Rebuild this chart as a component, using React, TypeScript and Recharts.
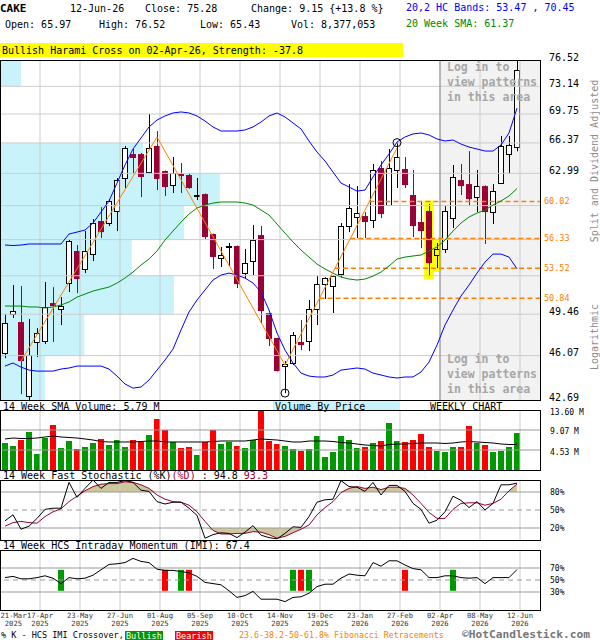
import {
  Area,
  Bar,
  Cell,
  ComposedChart,
  Line,
  ReferenceArea,
  ReferenceDot,
  ReferenceLine,
  XAxis,
  YAxis
} from "recharts";

const MONO = '"DejaVu Sans Mono", monospace';
const MAROON = "#990033";
const ORANGE = "#ff8000";
const GRID = "#cccccc";
const LEVEL = "#999999";
const LIGHT_BLUE = "#c8f3fb";
const GREEN = "#009900";
const RED = "#ff0000";

// weekly bars, index 0 = 21-Mar-2025 ... 64 = 12-Jun-2026
const opens = [
  46.27, 49.48, 48.8, 42.98, 47.16, 47.24, 50.42, 49.91, 52.18, 55.13, 53.45, 54.84, 58.04, 57.84, 59.05, 62.49,
  65.11, 65.11, 63.13, 66.02, 63.24, 61.74, 62.92, 62.81, 60.69, 60.79, 56.76, 54.47, 55.51, 55.61, 53.08, 54.19,
  56.66, 49.56, 47.48, 45.25, 45.49, 47.16, 47.24, 49.91, 52.09, 51.91, 52.99, 57.54, 58.44, 58.54, 58.14, 63.57,
  59.66, 63.35, 63.46, 60.69, 57.94, 59.05, 54.75, 55.32, 58.34, 62.27, 61.84, 60.48, 61.63, 58.94, 61.95, 65.11,
  65.97
];
const highs = [
  49.48, 52.0, 51.91, 49.05, 48.3, 52.27, 51.82, 50.94, 56.28, 55.7, 57.05, 58.24, 59.45, 60.27, 62.49, 66.02,
  65.68, 65.23, 69.75, 67.74, 63.3, 64.78, 64.12, 63.02, 62.49, 60.85, 56.8, 55.51, 55.89, 55.65, 55.32, 57.64,
  57.54, 49.6, 47.5, 45.64, 47.97, 48.97, 50.68, 52.81, 52.7, 52.9, 57.84, 61.84, 61.63, 58.94, 64.01, 64.34,
  65.68, 66.4, 64.78, 63.35, 59.97, 59.76, 55.89, 59.55, 63.9, 64.01, 65.45, 63.35, 61.7, 61.84, 67.17, 67.17,
  76.52
];
const lows = [
  45.87, 49.14, 43.12, 42.69, 45.95, 46.99, 47.16, 48.55, 51.38, 51.29, 53.08, 54.19, 56.37, 57.54, 57.05, 61.42,
  63.02, 60.48, 63.0, 61.21, 60.59, 60.9, 60.9, 61.35, 60.17, 56.28, 53.45, 53.64, 53.73, 51.73, 52.63, 52.9,
  48.72, 46.83, 44.84, 43.2, 45.33, 46.51, 46.43, 48.55, 50.77, 49.56, 52.72, 56.95, 56.37, 56.37, 57.35, 58.34,
  59.6, 61.42, 61.42, 56.47, 55.41, 52.81, 53.54, 54.94, 57.35, 60.69, 59.55, 58.94, 55.8, 57.74, 61.9, 63.02,
  65.43
];
const closes = [
  48.72, 49.73, 45.64, 46.11, 47.89, 50.08, 50.16, 50.16, 56.08, 52.54, 55.13, 57.84, 56.95, 60.07, 62.27, 65.79,
  64.67, 62.6, 65.79, 62.38, 61.53, 63.02, 62.7, 61.42, 60.72, 56.47, 54.56, 54.75, 55.61, 52.09, 54.0, 56.18,
  49.73, 47.4, 44.86, 45.41, 47.72, 46.91, 49.91, 52.09, 52.63, 52.81, 57.54, 59.35, 58.84, 57.94, 63.35, 58.74,
  63.57, 64.78, 61.74, 57.54, 57.05, 54.0, 55.32, 59.05, 62.6, 61.63, 60.27, 61.63, 58.94, 61.1, 66.02, 66.13,
  75.28
];
// millions of shares
const volumes = [
  6.12, 5.44, 6.8, 8.61, 3.63, 7.25, 10.2, 4.99, 6.57, 4.76, 5.21, 6.12, 7.03, 5.67, 6.8, 5.21,
  6.8, 6.35, 7.93, 11.56, 9.07, 6.35, 4.99, 5.21, 3.4, 6.35, 9.07, 5.89, 6.35, 5.44, 4.99, 6.8,
  13.37, 6.57, 5.89, 5.44, 4.76, 4.31, 4.76, 7.71, 2.95, 4.08, 7.71, 6.8, 4.99, 5.21, 6.12, 6.57,
  10.65, 6.57, 6.35, 6.8, 8.16, 5.21, 4.31, 4.08, 5.21, 5.21, 9.97, 6.12, 5.67, 4.08, 4.31, 5.21,
  8.38
];
const volSma14 = [
  7.03, 7.25, 7.14, 7.14, 7.25, 7.48, 7.71, 7.48, 7.37, 7.25, 7.03, 6.8, 6.46, 6.35, 6.35, 6.35,
  6.35, 6.46, 6.57, 6.57, 6.35, 6.35, 6.35, 6.35, 6.35, 6.35, 6.46, 6.57, 6.57, 6.57, 6.57, 6.8,
  7.03, 6.91, 6.8, 6.57, 6.35, 6.35, 6.57, 6.57, 6.57, 6.46, 6.23, 6.12, 5.89, 5.67, 5.55, 5.44,
  5.78, 5.89, 5.89, 6.01, 6.12, 6.12, 6.12, 6.01, 6.12, 6.35, 6.46, 6.35, 6.23, 6.12, 5.89, 5.78,
  5.79
];
const upperBand = [
  55.7, 55.65, 55.7, 55.8, 55.8, 55.8, 55.8, 55.8, 56.76, 56.95, 57.15, 57.84, 58.94, 60.07, 61.95, 63.9,
  65.68, 66.93, 68.21, 69.03, 69.51, 69.87, 69.99, 69.87, 69.51, 68.91, 68.21, 67.74, 67.74, 67.74, 67.86, 68.21,
  68.79, 69.51, 69.87, 69.39, 68.68, 67.98, 66.59, 65.34, 64.34, 63.13, 61.95, 61.53, 61.1, 61.21, 62.6, 63.9,
  65.11, 66.47, 67.05, 67.4, 67.51, 67.28, 66.82, 66.59, 66.7, 66.24, 65.9, 65.68, 65.45, 65.45, 66.13, 67.51,
  70.45
];
const lowerBand = [
  45.25, 45.49, 45.17, 44.94, 44.86, 44.86, 44.86, 45.02, 45.1, 45.25, 45.25, 45.25, 45.25, 45.02, 44.48, 43.88,
  43.57, 43.65, 44.18, 44.94, 45.72, 46.59, 48.14, 49.65, 50.68, 51.56, 52.45, 52.9, 53.08, 52.9, 52.63, 52.18,
  51.38, 49.82, 47.89, 46.51, 45.49, 44.71, 44.48, 44.41, 44.41, 44.56, 44.94, 45.02, 45.1, 45.02, 44.71, 44.56,
  44.41, 44.33, 44.41, 44.41, 44.79, 45.56, 46.91, 48.55, 49.82, 51.03, 52.0, 53.08, 54.09, 54.84, 54.84, 54.56,
  53.47
];
const sma20 = [
  50.16, 50.16, 50.16, 50.08, 50.08, 49.99, 50.08, 50.25, 50.51, 50.94, 51.2, 51.47, 51.65, 51.82, 52.18, 52.63,
  53.17, 53.82, 54.37, 55.13, 56.18, 57.05, 57.94, 58.74, 59.35, 59.66, 59.86, 59.97, 59.97, 59.97, 59.86, 59.66,
  59.15, 58.64, 57.74, 56.85, 55.99, 55.22, 54.56, 53.91, 53.45, 53.08, 52.72, 52.54, 52.45, 52.54, 52.81, 53.17,
  53.73, 54.37, 54.56, 54.66, 54.75, 55.13, 55.51, 56.18, 57.05, 57.84, 58.44, 58.84, 59.15, 59.66, 60.07, 60.59,
  61.37
];
const stochK = [
  32, 42, 18, 23, 36, 51, 53, 53, 96, 71, 86, 100, 86, 96, 96, 99,
  96, 83, 81, 64, 60, 63, 63, 53, 41, 3, 9, 12, 11, 4, 13, 24,
  8, 4, 2, 11, 22, 21, 39, 63, 67, 68, 99, 89, 88, 81, 96, 75,
  91, 91, 81, 61, 51, 28, 33, 47, 73, 66, 54, 64, 50, 61, 92, 92,
  94.8
];
const stochD = [
  23, 29, 31, 29, 28, 39, 47, 52, 64, 73, 82, 89, 93, 94, 94, 97,
  96, 92, 86, 75, 68, 64, 63, 58, 47, 31, 16, 10, 10, 11, 11, 14,
  13, 9, 3, 6, 12, 18, 25, 42, 54, 64, 79, 86, 89, 86, 88, 84,
  88, 88, 86, 75, 61, 46, 36, 36, 51, 61, 62, 62, 58, 61, 68, 82,
  93.3
];
const imiValues = [
  54, 56, 52, 52, 54, 57, 53, 44, 54, 52, 53, 58, 67, 76, 77, 79,
  86, 81, 79, 68, 66, 66, 64, 62, 56, 46, 44, 42, 32, 21, 24, 31,
  18, 18, 18, 14, 21, 22, 28, 39, 43, 43, 53, 60, 58, 57, 79, 73,
  82, 82, 75, 69, 67, 54, 54, 57, 57, 54, 53, 54, 44, 54, 54, 54,
  67.4
];

const dateLabels = [
  "21-Mar", "17-Apr", "23-May", "27-Jun", "01-Aug", "05-Sep", "10-Oct",
  "14-Nov", "19-Dec", "23-Jan", "27-Feb", "02-Apr", "08-May", "12-Jun"
];
const dateYears = ["2025", "2025", "2025", "2025", "2025", "2025", "2025", "2025", "2025", "2026", "2026", "2026", "2026", "2026"];
const dateWeeks = [0, 4, 9, 14, 19, 24, 29, 34, 39, 44, 49, 54, 59, 64];

const priceTicks = [42.69, 46.07, 49.46, 52.84, 56.22, 59.6, 62.99, 66.37, 69.75, 73.14, 76.52];
const hiddenPriceTicks = [52.84, 56.22, 59.6];
const fibLevels = [60.02, 56.33, 53.52, 50.84];
// volume by price, % of plot width, lowest price band first
const vbpPct = [8.3, 15.6, 32.2, 24.4, 34.1, 40.7, 26.5, 0, 0, 3.9];
const zigzagWeeks = [2, 19, 35, 49];
const zigzagPrices = [45.64, 67.05, 45.33, 65.79];
const swingLowWeek = 35;
const swingHighWeek = 49;
const patternWeeks = [53, 54];
const lockedFromWeek = 54;
const bullCross = [7, 22, 36, 38, 56];
const bearCross = [20, 23, 37, 50];
const volTicks = [4.53, 9.07, 13.6];

const X_MIN = -0.625;
const X_MAX = 66.875;
const GRID_SHIFT = 0.375;
const gridX = dateWeeks.slice(1).map((w) => w + GRID_SHIFT);
const tickX = dateWeeks.map((w) => w + GRID_SHIFT);

const rows = opens.map((open, i) => {
  const z = zigzagWeeks.indexOf(i);
  return {
    i,
    open,
    high: highs[i],
    low: lows[i],
    close: closes[i],
    vol: volumes[i],
    volSma: volSma14[i],
    upper: upperBand[i],
    lower: lowerBand[i],
    sma: sma20[i],
    k: stochK[i],
    d: stochD[i],
    imi: imiValues[i],
    zig: z >= 0 ? zigzagPrices[z] : null,
    cross: bullCross.includes(i) ? "bull" : bearCross.includes(i) ? "bear" : null
  };
});

// fib lines start where the last up-leg of the zigzag reaches them
const legFrom = zigzagWeeks[2];
const legTo = zigzagWeeks[3];
const fibStart = fibLevels.map((lv) => {
  const a = Math.log(zigzagPrices[2]);
  const b = Math.log(zigzagPrices[3]);
  return legFrom + ((Math.log(lv) - a) / (b - a)) * (legTo - legFrom);
});

function Candle(props: any) {
  const { x, y, width, height, payload } = props;
  if (!payload || !Number.isFinite(x) || !Number.isFinite(y)) return <g />;
  const top = Math.min(y, y + height);
  const h = Math.abs(height);
  const lh = Math.log(payload.high);
  const ll = Math.log(payload.low);
  const yOf = (p: number) => top + ((lh - Math.log(p)) / (lh - ll)) * h;
  const px = Math.round(x + width / 2 - 0.5);
  const up = payload.close >= payload.open;
  const b1 = yOf(Math.max(payload.open, payload.close));
  const b2 = yOf(Math.min(payload.open, payload.close));
  const marked = patternWeeks.includes(payload.i);
  return (
    <g>
      <rect x={px} y={top} width={1} height={h} fill={up ? "#000" : MAROON} />
      {up ? (
        <rect
          x={px - 2.5}
          y={Math.round(b1) + 0.5}
          width={5}
          height={Math.max(Math.round(b2 - b1), 1)}
          fill={marked ? "#ffff00" : "#fff"}
          stroke="#000"
        />
      ) : (
        <rect x={px - 3} y={b1} width={6} height={Math.max(b2 - b1, 1)} fill={MAROON} />
      )}
    </g>
  );
}

function PriceTick(props: any) {
  const { y, payload } = props;
  const fib = fibLevels.includes(payload.value);
  return (
    <text
      x={fib ? 544 : 549}
      y={fib ? y : y - 3}
      dominantBaseline="central"
      fontFamily={MONO}
      fontSize={fib ? 8.5 : 10}
      fill={fib ? ORANGE : "#000"}
    >
      {payload.value.toFixed(2)}
    </text>
  );
}

function makeTick(fmt: (v: number) => string, dy: number) {
  return (props: any) => (
    <text x={550} y={props.y + dy} dominantBaseline="central" fontFamily={MONO} fontSize={8} fill="#000">
      {fmt(props.payload.value)}
    </text>
  );
}

function DateTick(props: any) {
  const { x, payload } = props;
  const idx = tickX.indexOf(payload.value);
  if (idx < 0) return <g />;
  const first = idx === 0;
  return (
    <g fontFamily={MONO} fontSize={7.2} fill="#333" textAnchor={first ? "start" : "middle"}>
      <text x={first ? 0.5 : x} y={73}>{dateLabels[idx]}</text>
      <text x={first ? 4.8 : x} y={81}>{dateYears[idx]}</text>
    </g>
  );
}

const xAxisHidden = (
  <XAxis dataKey="i" type="number" domain={[X_MIN, X_MAX]} allowDataOverflow hide />
);

function verticalGrid() {
  return gridX.map((g) => <ReferenceLine key={`vg${g}`} x={g} stroke={GRID} />);
}

function PriceChart() {
  const labelTicks = [...priceTicks.filter((t) => !hiddenPriceTicks.includes(t)), ...fibLevels];
  return (
    <ComposedChart width={600} height={360} data={rows} margin={{ top: 10, right: 0, bottom: 10, left: 0 }}>
      {xAxisHidden}
      <YAxis
        orientation="right"
        width={60}
        scale="log"
        domain={[priceTicks[0], priceTicks[priceTicks.length - 1]]}
        allowDataOverflow
        ticks={labelTicks}
        interval={0}
        axisLine={false}
        tickLine={false}
        tick={(p: any) => <PriceTick {...p} />}
      />
      {vbpPct.map((pct, b) =>
        pct > 0 ? (
          <ReferenceArea
            key={`vbp${b}`}
            x1={X_MIN}
            x2={X_MIN + (pct / 100) * (X_MAX - X_MIN)}
            y1={priceTicks[b]}
            y2={priceTicks[b + 1]}
            fill={LIGHT_BLUE}
            fillOpacity={1}
            stroke="none"
          />
        ) : null
      )}
      <ReferenceArea
        x1={lockedFromWeek + GRID_SHIFT}
        x2={X_MAX}
        y1={priceTicks[0]}
        y2={priceTicks[priceTicks.length - 1]}
        fill="#f2f2f2"
        fillOpacity={1}
        stroke="none"
      />
      {verticalGrid()}
      {priceTicks.slice(1, -1).map((t) => (
        <ReferenceLine key={`hg${t}`} y={t} stroke={GRID} />
      ))}
      <ReferenceLine x={lockedFromWeek + GRID_SHIFT} stroke="#8c8c8c" />
      {fibLevels.map((lv, n) => (
        <ReferenceLine
          key={`fib${lv}`}
          segment={[
            { x: fibStart[n], y: lv },
            { x: X_MAX, y: lv }
          ]}
          stroke={ORANGE}
          strokeWidth={1.5}
          strokeDasharray="5 3"
        />
      ))}
      {patternWeeks.map((w) => (
        <ReferenceArea
          key={`pat${w}`}
          x1={w - 0.6}
          x2={w + 0.6}
          y1={lows[w] * 0.994}
          y2={highs[w] * 1.006}
          fill="#ffff00"
          fillOpacity={1}
          stroke="none"
        />
      ))}
      <Bar
        dataKey={(r: any) => [r.low, r.high]}
        barSize={6}
        shape={(p: any) => <Candle {...p} />}
        isAnimationActive={false}
      />
      <Line dataKey="upper" type="linear" stroke="#0000ff" strokeWidth={1} dot={false} isAnimationActive={false} />
      <Line dataKey="lower" type="linear" stroke="#0000ff" strokeWidth={1} dot={false} isAnimationActive={false} />
      <Line dataKey="sma" type="linear" stroke="#008800" strokeWidth={1} dot={false} isAnimationActive={false} />
      <Line
        dataKey="zig"
        type="linear"
        stroke={ORANGE}
        strokeWidth={1}
        dot={false}
        connectNulls
        isAnimationActive={false}
      />
      <ReferenceDot x={swingLowWeek} y={lows[swingLowWeek]} r={4} fill="none" stroke="#000" />
      <ReferenceDot x={swingHighWeek} y={highs[swingHighWeek]} r={4} fill="none" stroke="#000" />
    </ComposedChart>
  );
}

function VolumeChart() {
  const tick = makeTick((v) => `${v.toFixed(2)} M`, 2);
  return (
    <ComposedChart width={600} height={65} data={rows} margin={{ top: 5, right: 0, bottom: 0, left: 0 }}>
      {xAxisHidden}
      <YAxis
        orientation="right"
        width={60}
        domain={[0, 13.6]}
        allowDataOverflow
        ticks={volTicks}
        interval={0}
        axisLine={false}
        tickLine={false}
        tick={tick}
      />
      {verticalGrid()}
      {volTicks.slice(0, 2).map((t) => (
        <ReferenceLine key={`vl${t}`} y={t} stroke={LEVEL} />
      ))}
      <Bar dataKey="vol" barSize={6} isAnimationActive={false}>
        {rows.map((r) => (
          <Cell key={`vc${r.i}`} fill={r.close >= r.open ? GREEN : RED} />
        ))}
      </Bar>
      <Line dataKey="volSma" type="linear" stroke="#000" strokeWidth={1} dot={false} isAnimationActive={false} />
    </ComposedChart>
  );
}

function StochChart() {
  const tick = makeTick((v) => `${v}%`, 0.5);
  return (
    <ComposedChart width={600} height={65} data={rows} margin={{ top: 5, right: 0, bottom: 0, left: 0 }}>
      {xAxisHidden}
      <YAxis
        orientation="right"
        width={60}
        domain={[0, 100]}
        allowDataOverflow
        ticks={[20, 50, 80]}
        interval={0}
        axisLine={false}
        tickLine={false}
        tick={tick}
      />
      {verticalGrid()}
      <Area
        dataKey={(r: any) => [80, Math.max(80, r.d)]}
        type="linear"
        fill="#ccc89c"
        fillOpacity={1}
        stroke="none"
        isAnimationActive={false}
      />
      <Area
        dataKey={(r: any) => [Math.min(20, r.d), 20]}
        type="linear"
        fill="#ccc89c"
        fillOpacity={1}
        stroke="none"
        isAnimationActive={false}
      />
      <ReferenceLine y={80} stroke={LEVEL} />
      <ReferenceLine y={20} stroke={LEVEL} />
      <ReferenceLine y={50} stroke={LEVEL} strokeDasharray="5 4" />
      <Line dataKey="d" type="linear" stroke={MAROON} strokeWidth={1} dot={false} isAnimationActive={false} />
      <Line dataKey="k" type="linear" stroke="#000" strokeWidth={1} dot={false} isAnimationActive={false} />
    </ComposedChart>
  );
}

function ImiChart() {
  const tick = makeTick((v) => `${v}%`, 0.5);
  return (
    <ComposedChart width={600} height={90} data={rows} margin={{ top: 5, right: 0, bottom: 0, left: 0 }}>
      <XAxis
        dataKey="i"
        type="number"
        domain={[X_MIN, X_MAX]}
        allowDataOverflow
        ticks={tickX}
        interval={0}
        height={25}
        axisLine={false}
        tickLine={false}
        tick={(p: any) => <DateTick {...p} />}
      />
      <YAxis
        orientation="right"
        width={60}
        domain={[0, 100]}
        allowDataOverflow
        ticks={[30, 50, 70]}
        interval={0}
        axisLine={false}
        tickLine={false}
        tick={tick}
      />
      {verticalGrid()}
      <ReferenceLine y={70} stroke={LEVEL} />
      <ReferenceLine y={30} stroke={LEVEL} />
      <ReferenceLine y={50} stroke={LEVEL} strokeDasharray="5 4" />
      <Bar dataKey={(r: any) => (r.cross ? [32, 67] : null)} barSize={6} isAnimationActive={false}>
        {rows.map((r) => (
          <Cell key={`ic${r.i}`} fill={r.cross === "bull" ? GREEN : RED} />
        ))}
      </Bar>
      <Line dataKey="imi" type="linear" stroke="#000" strokeWidth={1} dot={false} isAnimationActive={false} />
    </ComposedChart>
  );
}

function Overlay() {
  const lockText = ["Log in to", "view patterns", "in this area"];
  return (
    <svg
      width={600}
      height={640}
      style={{ position: "absolute", left: 0, top: 0, pointerEvents: "none" }}
      fontFamily={MONO}
    >
      <text x={0} y={12} fontSize={11} fontWeight="bold">CAKE</text>
      <text x={70} y={12} fontSize={10}>12-Jun-26</text>
      <text x={145} y={12} fontSize={10}>Close: 75.28</text>
      <text x={251} y={12} fontSize={10}>Change: 9.15 {"{+13.8 %}"}</text>
      <text x={406} y={11} fontSize={10} fill="#0000ff">20,2 HC Bands: 53.47 , 70.45</text>
      <text x={5} y={28} fontSize={10}>Open: 65.97</text>
      <text x={99} y={28} fontSize={10}>High: 76.52</text>
      <text x={200} y={28} fontSize={10}>Low: 65.43</text>
      <text x={291} y={28} fontSize={10}>Vol: 8,377,053</text>
      <text x={406} y={27} fontSize={10} fill="#008800">20 Week SMA: 61.37</text>

      <rect x={0} y={43} width={403} height={14} fill="#ffff00" />
      <text x={2} y={54} fontSize={10}>Bullish Harami Cross on 02-Apr-26, Strength: -37.8</text>

      {lockText.map((t, n) => (
        <text key={`lt${n}`} x={447} y={71 + n * 15} fontSize={11.5} fontWeight="bold" fill="#a6a6a6">
          {t}
        </text>
      ))}
      {lockText.map((t, n) => (
        <text key={`lb${n}`} x={447} y={363 + n * 15} fontSize={11.5} fontWeight="bold" fill="#a6a6a6">
          {t}
        </text>
      ))}

      <text transform="translate(598,161) rotate(-90)" textAnchor="middle" fontSize={10} fill="#8c8c8c">
        Split and Dividend Adjusted
      </text>
      <text transform="translate(598,337) rotate(-90)" textAnchor="middle" fontSize={10} fill="#8c8c8c">
        Logarithmic
      </text>

      <rect x={273} y={400.5} width={127} height={9.5} fill={LIGHT_BLUE} />
      <rect x={0.5} y={60.5} width={540} height={340} fill="none" stroke="#000" />
      <rect x={0.5} y={410.5} width={540} height={60} fill="none" stroke="#000" />
      <rect x={0.5} y={480.5} width={540} height={60} fill="none" stroke="#000" />
      <rect x={0.5} y={550.5} width={540} height={60} fill="none" stroke="#000" />

      <text x={3} y={410} fontSize={10}>14 Week SMA Volume: 5.79 M</text>
      <text x={275} y={410} fontSize={10}>Volume By Price</text>
      <text x={430} y={410} fontSize={10}>WEEKLY CHART</text>
      <text x={3} y={479} fontSize={10}>
        14 Week Fast Stochastic (%K)<tspan fill={MAROON}>(%D)</tspan> : 94.8 <tspan fill={MAROON}>93.3</tspan>
      </text>
      <text x={3} y={549} fontSize={10}>14 Week HCS Intraday Momentum (IMI): 67.4</text>

      <text x={1} y={638} fontSize={8.5}>% K - HCS IMI Crossover,</text>
      <rect x={125} y={631} width={38} height={9} fill={GREEN} />
      <text x={126} y={638.5} fontSize={8.5} fill="#fff">Bullish</text>
      <rect x={175} y={631} width={38} height={9} fill={RED} />
      <text x={176} y={638.5} fontSize={8.5} fill="#fff">Bearish</text>
      <text x={239} y={638} fontSize={8.3} fill={ORANGE}>23.6-38.2-50-61.8% Fibonacci Retracements</text>
      <text x={462} y={638} fontSize={11.2} fontWeight="bold" fill="#777">©HotCandlestick.com</text>
    </svg>
  );
}

export default function App() {
  return (
    <div
      style={{
        position: "absolute",
        left: 0,
        top: 0,
        width: 600,
        height: 640,
        background: "#fff",
        overflow: "hidden",
        fontFamily: MONO
      }}
    >
      <div style={{ position: "absolute", left: 0, top: 50 }}>
        <PriceChart />
      </div>
      <div style={{ position: "absolute", left: 0, top: 405 }}>
        <VolumeChart />
      </div>
      <div style={{ position: "absolute", left: 0, top: 475 }}>
        <StochChart />
      </div>
      <div style={{ position: "absolute", left: 0, top: 545 }}>
        <ImiChart />
      </div>
      <Overlay />
    </div>
  );
}
